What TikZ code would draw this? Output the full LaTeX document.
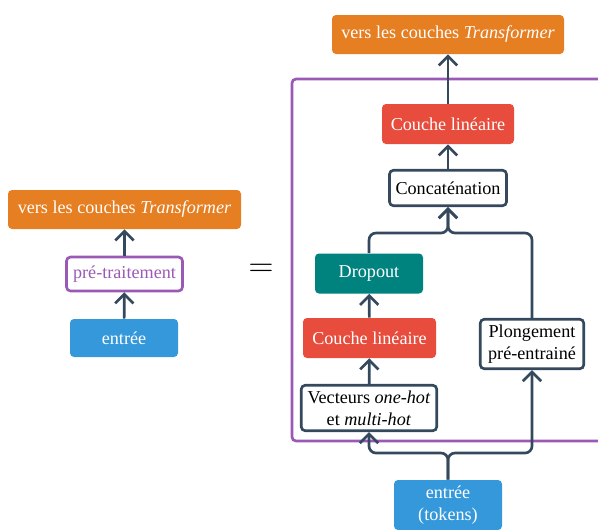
\documentclass[tikz,border=0pt]{standalone}
\usepackage{fontspec}
\setmainfont{Liberation Serif}
\usetikzlibrary{arrows.meta}
\definecolor{orangeT}{HTML}{E67E22}
\definecolor{rouge}{HTML}{E74C3C}
\definecolor{sarcelle}{HTML}{00827F}
\definecolor{bleu}{HTML}{3498DB}
\definecolor{violet}{HTML}{9B59B6}
\definecolor{ardoise}{HTML}{34495E}
\begin{document}
\begin{tikzpicture}[x=0.6pt,y=-0.6pt,
  box/.style={rounded corners=2.4pt,inner sep=0pt,align=center,font=\fontsize{10.9}{13}\selectfont},
  plein/.style={box,fill=#1,text=white},
  vide/.style={box,draw=ardoise,line width=1.6pt,fill=white,text=black},
  fleche/.style={draw=ardoise,line width=1.6pt,-{Straight Barb[length=5.5pt,width=11pt,line width=1.6pt]}}]
  \useasboundingbox (0,0) rectangle (598,529);

  % cote gauche
  \node[plein=orangeT,minimum width=139.8pt,minimum height=23.4pt] (versg) at (124.5,209.5) {vers les couches \textit{Transformer}};
  \node[box,draw=violet,line width=1.6pt,fill=white,text=violet,minimum width=69.6pt,minimum height=20.4pt] (pretr) at (124.5,274) {pré-traitement};
  \node[plein=bleu,minimum width=64.8pt,minimum height=22.8pt] (entg) at (124,338) {entrée};
  \draw[fleche] (entg) -- (pretr);
  \draw[fleche] (pretr) -- (versg);

  \node (egal) at (261,270) {\huge$=$};

  % cote droit
  \draw[violet,line width=1.6pt,rounded corners=2.4pt] (292,79) rectangle (620,441);
  \node[plein=orangeT,minimum width=139.2pt,minimum height=23.4pt] (versd) at (448,34.5) {vers les couches \textit{Transformer}};
  \node[plein=rouge,minimum width=79.2pt,minimum height=24pt] (lin1) at (448,124) {Couche linéaire};
  \node[vide,minimum width=70.2pt,minimum height=21.3pt] (concat) at (448,188) {Concaténation};
  \node[plein=sarcelle,minimum width=64.8pt,minimum height=24pt] (drop) at (369,273.5) {Dropout};
  \node[plein=rouge,minimum width=79.8pt,minimum height=24pt] (lin2) at (369.5,338) {Couche linéaire};
  \node[vide,minimum width=81.3pt,minimum height=27.3pt] (vect) at (369,408) {Vecteurs \textit{one-hot}\\et \textit{multi-hot}};
  \node[vide,minimum width=62.1pt,minimum height=29.7pt] (plong) at (532,344) {Plongement\\pré-entrainé};
  \node[plein=bleu,minimum width=64.8pt,minimum height=30pt] (entd) at (448,505) {entrée\\(tokens)};

  \draw[fleche,rounded corners=4.2pt] (entd.north) -- (448,453) -| (vect.south);
  \draw[fleche,rounded corners=4.2pt] (entd.north) -- (448,453) -| (plong.south);
  \draw[fleche] (vect) -- (lin2);
  \draw[fleche] (lin2) -- (drop);
  \draw[fleche,rounded corners=4.2pt] (drop.north) |- (448,233) -- (concat.south);
  \draw[fleche,rounded corners=4.2pt] (plong.north) |- (448,233) -- (concat.south);
  \draw[fleche] (concat) -- (lin1);
  \draw[fleche] (lin1) -- (versd);
\end{tikzpicture}
\end{document}
